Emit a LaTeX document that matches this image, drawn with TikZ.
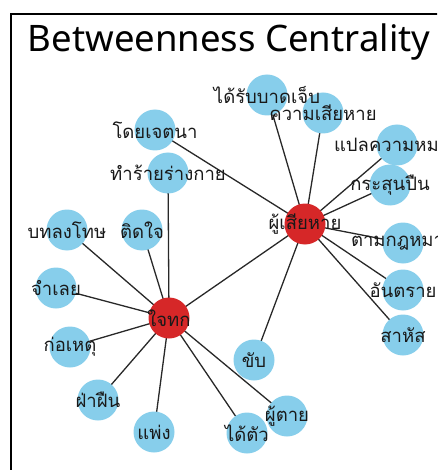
\documentclass[tikz,border=0pt]{standalone}
\usepackage{fontspec}
\setmainfont{Noto Sans}
\newfontfamily\thaifont[Script=Thai]{Loma}
\definecolor{leafblue}{RGB}{135,206,235}
\definecolor{hubred}{RGB}{214,39,40}
\definecolor{edgegray}{RGB}{40,40,40}
\pgfdeclarelayer{background}
\pgfsetlayers{background,main}
\begin{document}
\begin{tikzpicture}[x=1pt,y=-1pt,
  leaf/.style={circle,fill=leafblue,minimum size=41pt,inner sep=0pt},
  hub/.style={circle,fill=hubred,minimum size=41pt,inner sep=0pt},
  lbl/.style={font=\thaifont\fontsize{18.5}{18.5}\selectfont,text=black!90,inner sep=0pt,anchor=center},
  link/.style={draw=edgegray,line width=1.3pt}]
\useasboundingbox (0,0) rectangle (437,470);
\clip (0,0) rectangle (437,470);
% frame
\draw[line width=1.6pt] (11,470) -- (11,14) -- (440,14);
% title
\node[font=\fontsize{36.5}{36.5}\selectfont,anchor=center,inner sep=0pt] (title) at (229,42) {Betweenness Centrality};

% hubs and leaves (circles)
\node[hub] (victim) at (305,224) {};
\node[hub] (defend) at (169,318) {};
\node[leaf] (injured) at (267,95) {};
\node[leaf] (damage) at (323,113) {};
\node[leaf] (interp) at (397,145) {};
\node[leaf] (bullet) at (390,185) {};
\node[leaf] (bylaw) at (403,243) {};
\node[leaf] (danger) at (403,290) {};
\node[leaf] (severe) at (403,335) {};
\node[leaf] (drive) at (254,360) {};
\node[leaf] (intent) at (155,130) {};
\node[leaf] (assault) at (168,173) {};
\node[leaf] (penalty) at (67,230) {};
\node[leaf] (object) at (142,230) {};
\node[leaf] (accused) at (56,288) {};
\node[leaf] (offend) at (70,347) {};
\node[leaf] (violate) at (98,400) {};
\node[leaf] (civil) at (154,432) {};
\node[leaf] (caught) at (247,433) {};
\node[leaf] (dead) at (287,416) {};

% connectors, drawn centre to centre beneath the circles
\begin{pgfonlayer}{background}
\foreach \t in {injured,damage,interp,bullet,bylaw,danger,severe,drive,intent,defend}
  \draw[link] (victim.center) -- (\t.center);
\foreach \t in {assault,object,penalty,accused,offend,violate,civil,caught,dead}
  \draw[link] (defend.center) -- (\t.center);
\end{pgfonlayer}

% labels on top of every circle
\node[lbl] (victim-t) at (victim) {ผู้เสียหาย};
\node[lbl] (defend-t) at (defend) {ใจทก};
\node[lbl] (injured-t) at (injured) {ได้รับบาดเจ็บ};
\node[lbl] (damage-t) at (damage) {ความเสียหาย};
\node[lbl] (interp-t) at (interp) {แปลความหมาย};
\node[lbl] (bullet-t) at (bullet) {กระสุนปืน};
\node[lbl] (bylaw-t) at (bylaw) {ตามกฎหมาย};
\node[lbl] (danger-t) at (danger) {อันตราย};
\node[lbl] (severe-t) at (severe) {สาหัส};
\node[lbl] (drive-t) at (drive) {ขับ};
\node[lbl] (intent-t) at (intent) {โดยเจตนา};
\node[lbl] (assault-t) at (assault) {ทำร้ายร่างกาย};
\node[lbl] (penalty-t) at (penalty) {บทลงโทษ};
\node[lbl] (object-t) at (object) {ติดใจ};
\node[lbl] (accused-t) at (accused) {จำเลย};
\node[lbl] (offend-t) at (offend) {ก่อเหตุ};
\node[lbl] (violate-t) at (violate) {ฝ่าฝืน};
\node[lbl] (civil-t) at (civil) {แพ่ง};
\node[lbl] (caught-t) at (caught) {ได้ตัว};
\node[lbl] (dead-t) at (dead) {ผู้ตาย};
\end{tikzpicture}
\end{document}
